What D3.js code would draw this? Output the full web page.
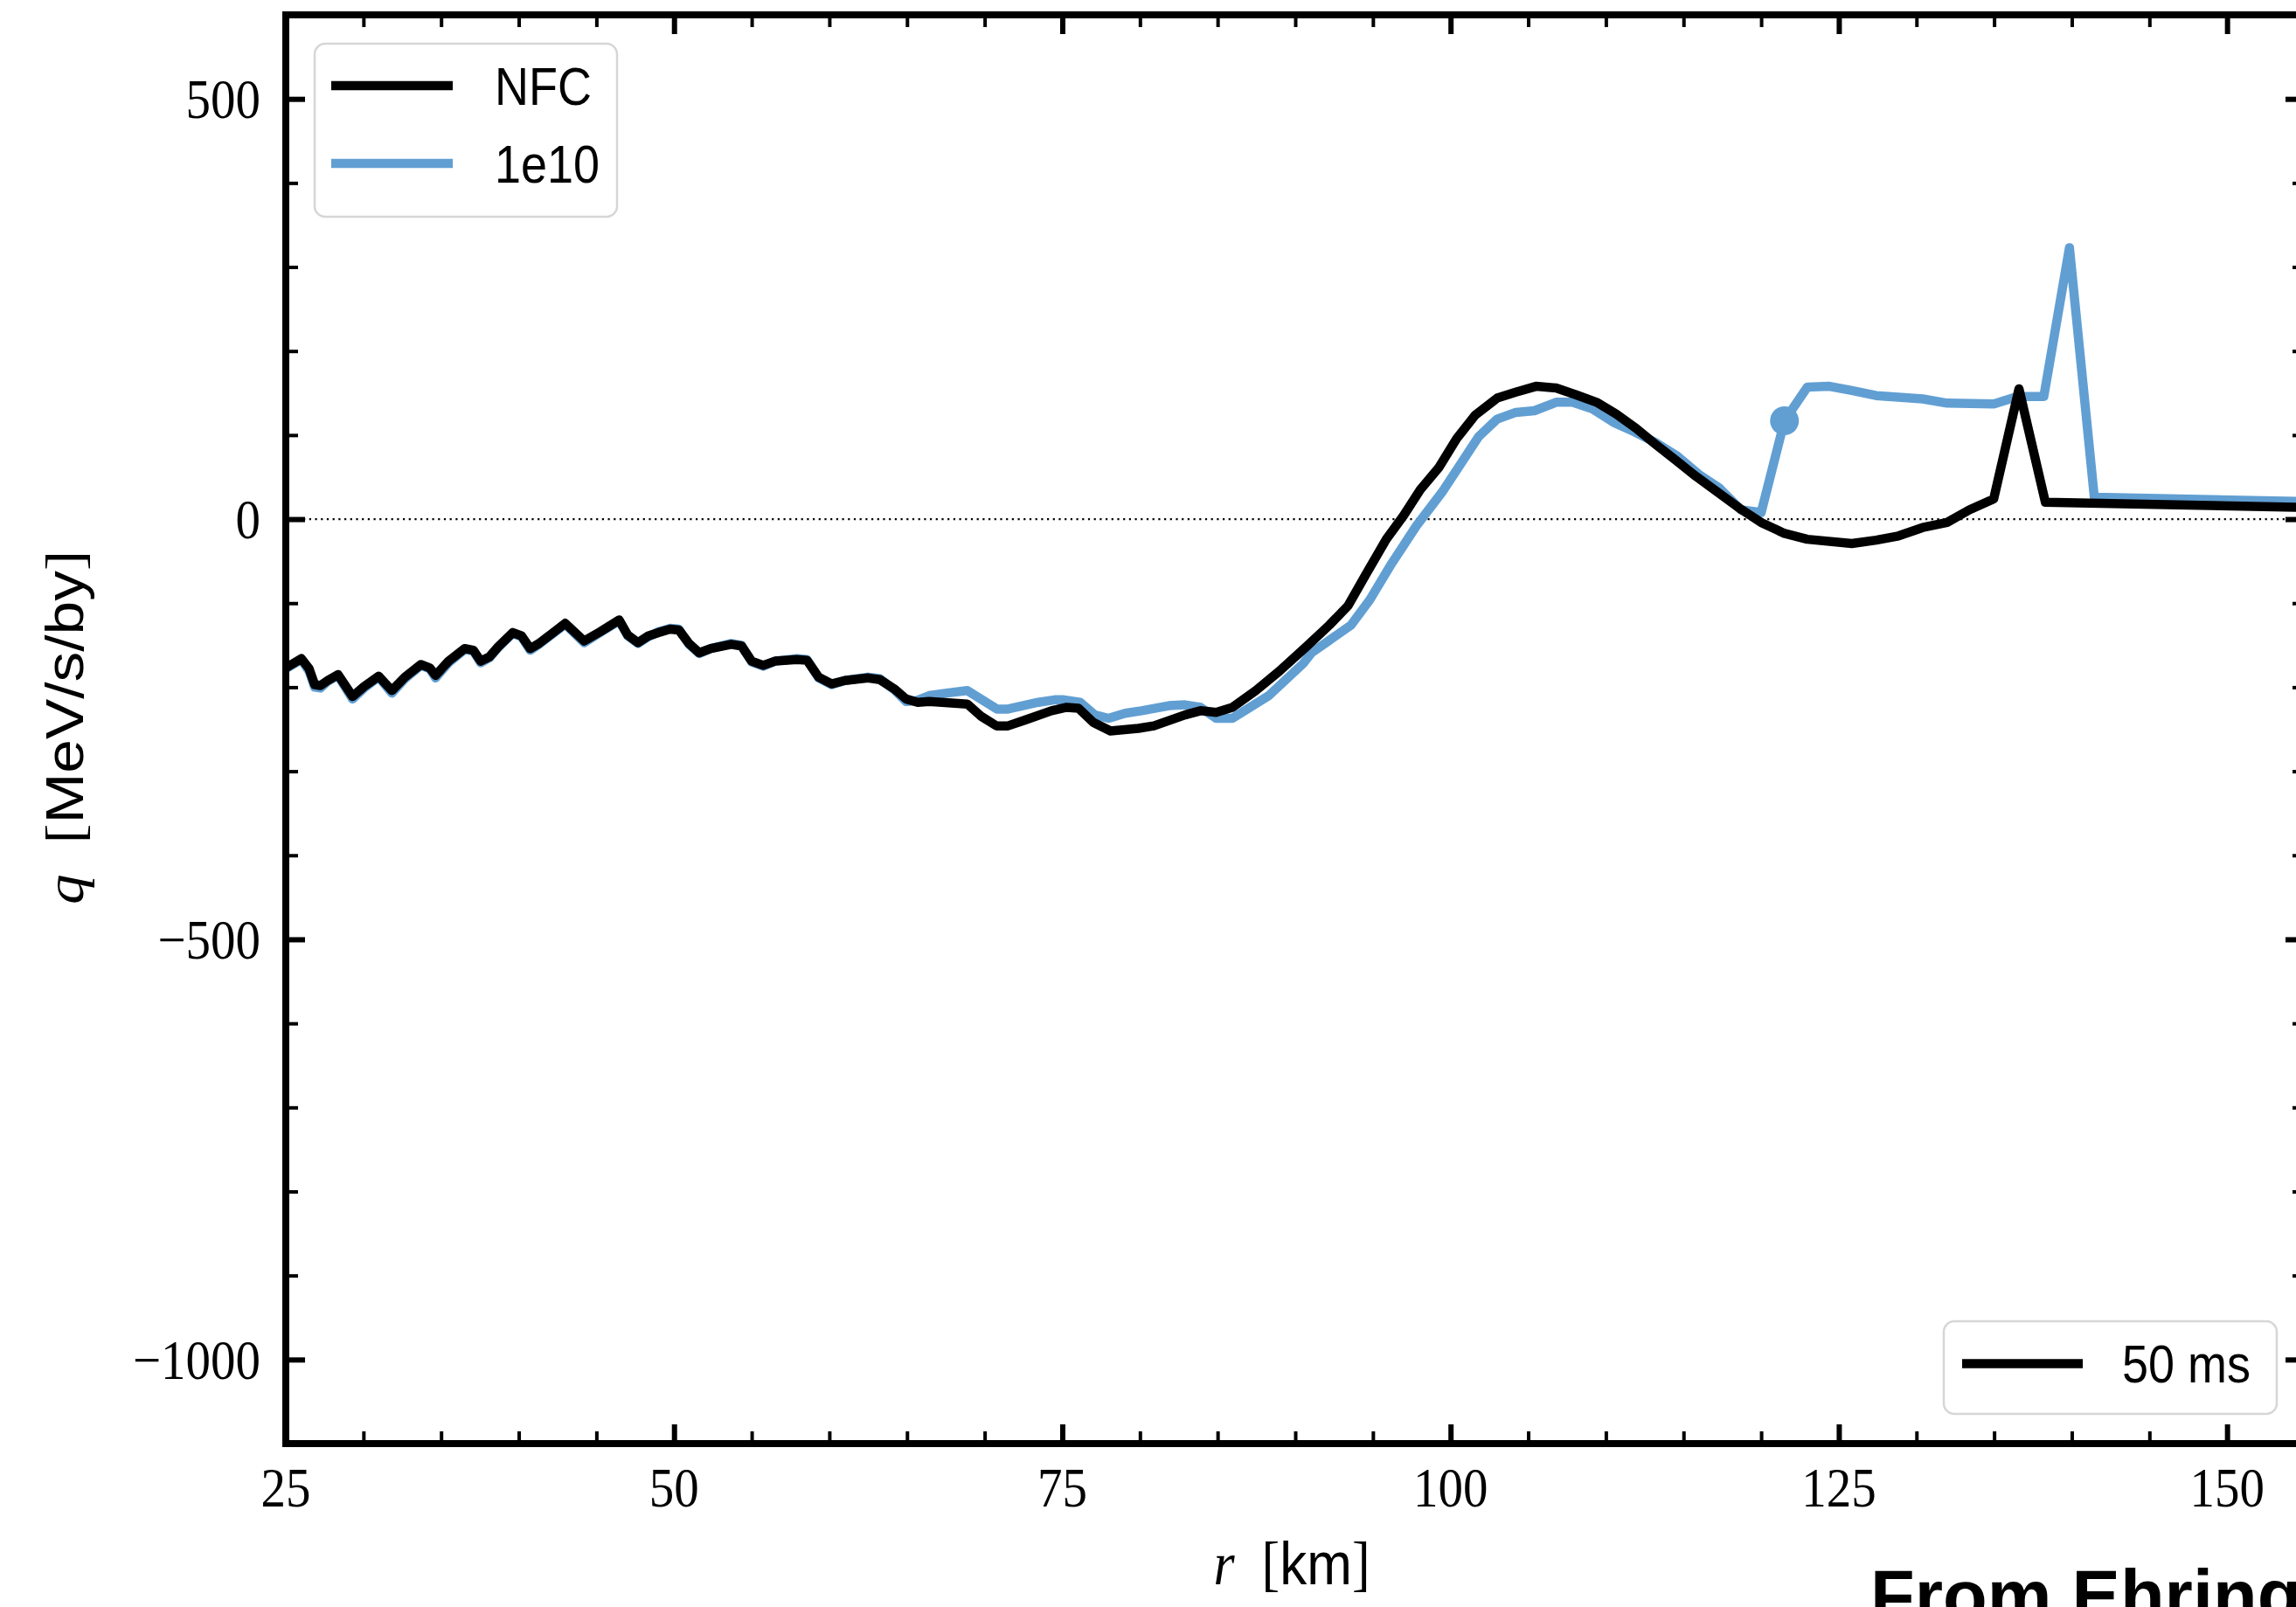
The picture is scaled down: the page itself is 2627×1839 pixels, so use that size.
<!DOCTYPE html>
<html>
<head>
<meta charset="utf-8">
<script src="https://cdn.jsdelivr.net/npm/d3@7"></script>
<style>
  html, body { margin: 0; padding: 0; background: #ffffff; }
  svg { display: block; }
</style>
</head>
<body>
<div id="chart"></div>
<script>
// ---------------- data ----------------
const nfcR = [25.0, 26.0, 26.5, 26.86, 27.23, 27.7, 28.36, 29.3, 30.05, 30.98,
  31.83, 32.67, 33.7, 34.27, 34.64, 35.48, 36.52, 37.08, 37.55, 38.11,
  38.67, 39.61, 40.18, 40.74, 41.3, 42.15, 42.99, 44.21, 45.24, 46.46,
  47.02, 47.68, 48.34, 48.99, 49.74, 50.31, 50.96, 51.62, 52.37, 53.68,
  54.34, 55.0, 55.74, 56.5, 57.9, 58.56, 59.31, 60.15, 61.0, 62.5,
  63.25, 64.18, 64.94, 65.69, 66.43, 68.88, 69.8, 70.76, 71.5, 72.6,
  74.3, 75.28, 76.04, 77.0, 78.1, 79.9, 80.9, 82.9, 83.9, 84.9,
  85.95, 87.46, 88.97, 90.7, 92.2, 93.4, 94.57, 95.86, 96.97, 98.05,
  99.23, 100.4, 101.6, 103.0, 104.2, 105.5, 106.8, 108.07, 109.4, 110.66,
  111.95, 113.2, 114.5, 115.8, 117.2, 118.6, 120.0, 121.5, 122.97, 125.84,
  127.4, 128.84, 130.4, 131.97, 133.4, 134.97, 136.6, 138.3, 155];
const nfcQ = [-177, -166, -178, -197, -198, -192, -185, -211, -199, -187,
  -204, -188, -173, -177, -186, -169, -154, -156, -169, -164,
  -152, -135, -139, -154, -148, -136, -124, -145, -134, -120,
  -138, -147, -139, -135, -131, -132, -148, -159, -154, -149,
  -151, -169, -174, -169, -167, -168, -188, -196, -192, -189,
  -191, -202, -214, -218, -217, -220, -235, -246, -246, -239,
  -228, -224, -225, -242, -252, -249, -246, -233, -228, -230,
  -224, -204, -181, -152, -126, -103, -65, -24, 4, 35,
  61, 96, 124, 144, 151, 158, 156, 148, 139, 125,
  108, 89, 70, 51, 32, 13, -4, -17, -24, -29,
  -25, -20, -10, -4, 11, 24, 155, 20, 14];

const e10R = [25.0, 26.0, 26.5, 26.86, 27.23, 27.7, 28.36, 29.3, 30.05, 30.98,
  31.83, 32.67, 33.7, 34.27, 34.64, 35.48, 36.52, 37.08, 37.55, 38.11,
  38.67, 39.61, 40.18, 40.74, 41.3, 42.15, 42.99, 44.21, 45.24, 46.46,
  47.02, 47.68, 48.34, 48.99, 49.74, 50.31, 50.96, 51.62, 52.37, 53.68,
  54.34, 55.0, 55.74, 56.5, 57.9, 58.56, 59.31, 60.15, 61.0, 62.5,
  63.25, 64.18,
  64.94, 65.6, 66.43, 67.56, 68.88, 70.8, 71.5, 73.45, 74.5, 75.1,
  76.15, 77.1, 77.97, 79.05, 80.1, 81.86, 82.9, 83.9, 84.9, 85.95,
  88.3, 90.5, 91.05, 93.6, 94.8, 96.2, 97.8, 99.45, 100.7, 101.8,
  103.0, 104.2, 105.4, 106.8, 107.85, 109.15, 110.5, 111.6, 113.2, 114.6,
  116.0, 117.3, 118.7, 120.0, 121.5, 122.97, 124.4, 125.84, 127.4, 130.4,
  131.97, 134.97, 136.55, 138.2, 139.85, 141.45, 155];
const e10Q = [-178, -167, -181, -200, -201, -193, -186, -214, -201, -188,
  -207, -190, -174, -178, -189, -171, -155, -157, -171, -165,
  -153, -136, -140, -156, -149, -137, -125, -147, -135, -121,
  -139, -148, -140, -134, -130, -131, -149, -160, -154, -148,
  -150, -170, -175, -169, -166, -167, -189, -197, -192, -188,
  -190, -203,
  -217, -216, -210, -207, -204, -226, -226, -218, -215, -215,
  -218, -233, -237, -231, -228, -222, -221, -224, -237, -237,
  -210, -172, -159, -126, -96, -53, -8, 32, 67, 98,
  119, 127, 129, 139, 139, 131, 115, 106, 91, 75,
  53, 37, 11, 8, 117, 157, 158, 153, 147, 143,
  138, 137, 146, 146, 323, 26, 21];

const markerR = [121.5];
const markerQ = [117];

const xMajor = [25, 50, 75, 100, 125, 150];
const xMinor = d3.range(25, 156, 5);
const yMajor = [500, 0, -500, -1000];
const yMinor = d3.range(-1100, 601, 100);
const seriesNames = ["NFC", "1e10"];
const seriesColors = ["#000000", "#619fd3"];
const timeLabel = "50 ms";
const creditText = "From Ehring";

// ---------------- layout ----------------
const W = 2627, H = 1839;
const x = d3.scaleLinear().domain([25, 155]).range([327, 2637]);
const y = d3.scaleLinear().domain([-1100, 600]).range([1652, 17]);
const SY = 1.12; // vertical stretch of glyphs
const serif = "'Liberation Serif', 'DejaVu Serif', serif";
const sans = "'Liberation Sans', 'DejaVu Sans', sans-serif";

const svg = d3.select("#chart").append("svg")
  .attr("width", W).attr("height", H)
  .attr("viewBox", `0 0 ${W} ${H}`);

svg.append("rect").attr("width", W).attr("height", H).attr("fill", "#fff");

svg.append("clipPath").attr("id", "plotclip")
  .append("rect")
  .attr("x", x(25)).attr("y", y(600))
  .attr("width", x(155) - x(25)).attr("height", y(-1100) - y(600));

// zero line
svg.append("line")
  .attr("x1", x(25)).attr("x2", x(155))
  .attr("y1", y(0)).attr("y2", y(0))
  .attr("stroke", "#000").attr("stroke-width", 2.2)
  .attr("stroke-dasharray", "2.2,4.5");

// data lines
const plot = svg.append("g").attr("clip-path", "url(#plotclip)");
const line = d3.line().x(d => x(d[0])).y(d => y(d[1]));
const e10 = e10R.map((r, i) => [r, e10Q[i]]);
const nfc = nfcR.map((r, i) => [r, nfcQ[i]]);

plot.append("path").datum(e10)
  .attr("d", line).attr("fill", "none")
  .attr("stroke", seriesColors[1]).attr("stroke-width", 10.5)
  .attr("stroke-linejoin", "round").attr("stroke-linecap", "butt");
plot.selectAll("circle.mk").data(markerR.map((r, i) => [r, markerQ[i]]))
  .enter().append("circle").attr("class", "mk")
  .attr("cx", d => x(d[0])).attr("cy", d => y(d[1]))
  .attr("r", 16.5).attr("fill", seriesColors[1]);
plot.append("path").datum(nfc)
  .attr("d", line).attr("fill", "none")
  .attr("stroke", seriesColors[0]).attr("stroke-width", 10.5)
  .attr("stroke-linejoin", "round").attr("stroke-linecap", "butt");

// ticks (inward, all four sides)
function tickGroup(gen, tx, ty, width) {
  const g = svg.append("g").attr("transform", `translate(${tx},${ty})`).call(gen);
  g.select(".domain").remove();
  g.selectAll("text").remove();
  g.selectAll(".tick line").attr("stroke", "#000").attr("stroke-width", width);
  return g;
}
const yMinorOnly = yMinor.filter(v => !yMajor.includes(v));
const xMinorOnly = xMinor.filter(v => !xMajor.includes(v));

tickGroup(d3.axisLeft(y).tickValues(yMinorOnly).tickSize(-14), x(25), 0, 4);
tickGroup(d3.axisLeft(y).tickValues(yMajor).tickSize(-22), x(25), 0, 6);
tickGroup(d3.axisRight(y).tickValues(yMinorOnly).tickSize(-14), x(155), 0, 4);
tickGroup(d3.axisRight(y).tickValues(yMajor).tickSize(-22), x(155), 0, 6);
tickGroup(d3.axisBottom(x).tickValues(xMinorOnly).tickSize(-14), 0, y(-1100), 4);
tickGroup(d3.axisBottom(x).tickValues(xMajor).tickSize(-22), 0, y(-1100), 6);
tickGroup(d3.axisTop(x).tickValues(xMinorOnly).tickSize(-14), 0, y(600), 4);
tickGroup(d3.axisTop(x).tickValues(xMajor).tickSize(-22), 0, y(600), 6);

// spines
svg.append("rect")
  .attr("x", x(25)).attr("y", y(600))
  .attr("width", x(155) - x(25)).attr("height", y(-1100) - y(600))
  .attr("fill", "none").attr("stroke", "#000").attr("stroke-width", 8);

// tick labels
const fmt = v => (v < 0 ? "\u2212" : "") + Math.abs(v);
svg.append("g").selectAll("text").data(yMajor).enter().append("text")
  .attr("transform", d => `translate(298,${y(d) + 22}) scale(1,${SY})`)
  .attr("text-anchor", "end")
  .attr("font-family", serif).attr("font-size", 57)
  .text(fmt);
svg.append("g").selectAll("text").data(xMajor).enter().append("text")
  .attr("transform", d => `translate(${x(d)},1724) scale(1,${SY})`)
  .attr("text-anchor", "middle")
  .attr("font-family", serif).attr("font-size", 57)
  .text(fmt);

// axis labels
const xl = svg.append("text")
  .attr("transform", `translate(${(x(25) + x(155)) / 2 - 4},1813) scale(1,${SY})`)
  .attr("text-anchor", "middle").attr("font-size", 62);
xl.append("tspan").attr("font-family", serif).attr("font-style", "italic").text("r");
xl.append("tspan").attr("font-family", serif).text("\u2002[");
xl.append("tspan").attr("font-family", sans).text("km");
xl.append("tspan").attr("font-family", serif).text("]");

const yl = svg.append("text")
  .attr("transform", `translate(95,${(y(600) + y(-1100)) / 2 - 2}) rotate(-90) scale(${SY},1)`)
  .attr("text-anchor", "middle").attr("font-size", 62);
yl.append("tspan").attr("font-family", serif).attr("font-style", "italic").text("q");
yl.append("tspan").attr("font-family", serif).text("\u2002[");
yl.append("tspan").attr("font-family", sans).text("MeV/s/by");
yl.append("tspan").attr("font-family", serif).text("]");

// legend 1
const leg = svg.append("g");
leg.append("rect").attr("x", 360).attr("y", 50).attr("width", 346).attr("height", 198)
  .attr("rx", 12).attr("fill", "#fff").attr("fill-opacity", 0.8)
  .attr("stroke", "#d6d6d6").attr("stroke-width", 2.5);
seriesNames.forEach((name, i) => {
  const ly = 98 + i * 89;
  leg.append("line").attr("x1", 379).attr("x2", 518).attr("y1", ly).attr("y2", ly)
    .attr("stroke", seriesColors[i]).attr("stroke-width", 10.5);
  leg.append("text")
    .attr("transform", `translate(566,${ly + 22}) scale(1,${SY})`)
    .attr("font-family", sans).attr("font-size", 54)
    .text(name);
});

// legend 2
const leg2 = svg.append("g");
leg2.append("rect").attr("x", 2224).attr("y", 1512).attr("width", 381).attr("height", 106)
  .attr("rx", 12).attr("fill", "#fff").attr("fill-opacity", 0.8)
  .attr("stroke", "#d6d6d6").attr("stroke-width", 2.5);
leg2.append("line").attr("x1", 2245).attr("x2", 2383).attr("y1", 1560.5).attr("y2", 1560.5)
  .attr("stroke", "#000").attr("stroke-width", 10.5);
leg2.append("text")
  .attr("transform", `translate(2428,1582) scale(1,${SY})`)
  .attr("font-family", sans).attr("font-size", 54)
  .text(timeLabel);

// credit text (cut off at the bottom edge, as in the reference)
svg.append("text")
  .attr("x", 2140).attr("y", 1855)
  .attr("font-family", sans).attr("font-weight", "bold").attr("font-size", 83)
  .text(creditText);
</script>
</body>
</html>
